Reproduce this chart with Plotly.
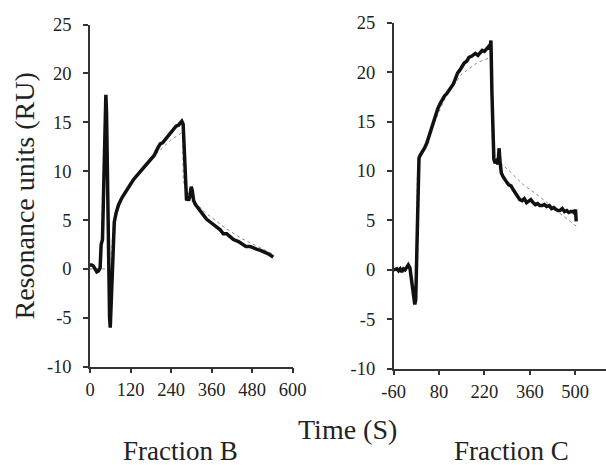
import plotly.graph_objects as go

# ---- Fraction B (left panel) ----
b_time = [0, 5, 10, 15, 20, 25, 30, 33, 37, 41, 45, 47, 49, 52, 55, 58, 60, 62, 65, 68, 72, 78, 85, 95,
          104, 115, 128, 140, 150, 160, 170, 178, 190, 200, 208, 215, 225, 237, 245, 255, 262, 268, 272,
          276, 280, 283, 286, 289, 292, 296, 300, 303, 307, 312, 318, 330, 345, 356, 370, 386, 395, 405,
          415, 425, 440, 450, 462, 474, 485, 495, 505, 514, 525, 535, 543]
b_resp = [0.4, 0.4, 0.3, 0.0, -0.3, -0.2, 0.1, 2.5, 3.0, 9.0, 16.0, 17.8, 16.0, 8.0, 0.0, -5.0, -6.0, -4.0,
          0.0, 3.0, 4.8, 5.8, 6.6, 7.3, 7.8, 8.5, 9.1, 9.6, 10.0, 10.4, 10.7, 11.0, 11.6, 12.3, 12.8, 12.9,
          13.3, 13.9, 14.2, 14.6, 14.7, 14.9, 15.1, 14.8, 12.0, 8.5, 7.0, 7.2, 7.0, 7.5, 8.4, 8.0, 7.0, 6.6,
          6.3, 5.7, 5.1, 4.8, 4.4, 4.0, 3.6, 3.6, 3.3, 3.0, 2.8, 2.6, 2.3, 2.3, 2.1, 2.0, 1.9, 1.8, 1.6,
          1.4, 1.2]
b_fit_time = [0, 63, 66, 70, 78, 90, 104, 150, 200, 240, 275, 276, 290, 310, 340, 366, 400, 450, 500, 543]
b_fit_resp = [0.0, 0.0, 3.0, 5.0, 6.3, 7.2, 7.8, 9.9, 11.9, 13.2, 14.0, 9.0, 7.8, 6.9, 5.8, 5.1, 4.2, 3.1,
              2.2, 1.5]

# ---- Fraction C (right panel) ----
c_time = [-60, -50, -45, -40, -35, -30, -25, -20, -15, -10, -5, 0, 5, 8, 11, 14, 18, 22, 28, 35, 42, 50,
          56, 62, 70, 76, 83, 90, 97, 103, 110, 117, 124, 130, 137, 144, 150, 157, 165, 172, 180, 185,
          192, 200, 206, 213, 220, 227, 233, 237, 240, 243, 246, 249, 253, 257, 262, 265, 268, 272, 278,
          283, 288, 295, 302, 309, 316, 323, 329, 336, 343, 350, 357, 363, 370, 377, 384, 391, 398, 405,
          412, 420, 427, 434, 441, 447, 453, 460, 467, 474, 480, 487, 494, 498, 501, 503]
c_resp = [0.0, 0.1, -0.1, 0.1, -0.2, 0.1, 0.0, 0.2, 0.5, 0.2, -1.0, -2.5, -3.5, -3.0, 2.0, 8.0, 11.3, 11.6,
          11.9, 12.3, 12.8, 13.6, 14.4, 14.8, 15.8, 16.3, 16.8, 17.3, 17.6, 17.8, 18.1, 18.5, 18.8, 19.3,
          19.9, 20.2, 20.6, 20.9, 21.1, 21.5, 21.6, 21.7, 21.9, 21.7, 21.9, 22.2, 22.1, 22.4, 22.6, 22.3,
          23.2, 18.0, 12.5, 11.2, 10.8, 11.0, 10.7, 12.3, 11.0, 9.8, 9.4, 9.1, 8.9, 8.6, 8.5, 8.1, 7.8,
          7.4, 7.1, 7.0, 7.2, 6.8, 7.0, 7.1, 6.8, 6.6, 6.7, 6.5, 6.5, 6.6, 6.4, 6.5, 6.2, 6.3, 6.1, 6.0,
          6.0, 6.2, 5.9, 6.0, 5.8, 5.9, 5.9, 5.7, 6.1, 4.9]
c_fit_time = [10, 13, 20, 60, 100, 150, 200, 240, 245, 270, 300, 340, 370, 410, 453, 480, 506]
c_fit_resp = [0.0, 9.7, 11.0, 14.5, 17.5, 19.8, 21.0, 21.5, 12.0, 10.8, 9.9, 8.6, 7.9, 6.9, 5.7, 5.0, 4.35]

y_ticks = [-10, -5, 0, 5, 10, 15, 20, 25]
y_tick_text = ["-10", "-5", "0", "5", "10", "15", "20", "25"]
b_x_ticks = [0, 120, 240, 360, 480, 600]
c_x_ticks = [-60, 80, 220, 360, 500]
c_x_tick_text = ["-60", "80", "220", "360", "500"]

W, H = 606, 465
FONT = "Liberation Serif, Times New Roman, serif"
AX = "#333333"

fig = go.Figure()
fig.add_trace(go.Scatter(x=b_fit_time, y=b_fit_resp, mode="lines", xaxis="x", yaxis="y",
                         line=dict(color="#8a8a8a", width=1, dash="dot"), showlegend=False))
fig.add_trace(go.Scatter(x=b_time, y=b_resp, mode="lines", xaxis="x", yaxis="y",
                         line=dict(color="#111111", width=3.5), showlegend=False))
fig.add_trace(go.Scatter(x=c_fit_time, y=c_fit_resp, mode="lines", xaxis="x2", yaxis="y2",
                         line=dict(color="#8a8a8a", width=1, dash="dot"), showlegend=False))
fig.add_trace(go.Scatter(x=c_time, y=c_resp, mode="lines", xaxis="x2", yaxis="y2",
                         line=dict(color="#111111", width=3.5), showlegend=False))

axcommon = dict(showgrid=False, zeroline=False, showline=True, linecolor=AX, linewidth=1.5,
                ticks="outside", ticklen=5, tickwidth=1.5, tickcolor=AX, automargin=False,
                tickfont=dict(family=FONT, size=18.5, color="#222222"))

fig.update_layout(
    width=W, height=H,
    margin=dict(l=0, r=0, t=0, b=0, pad=0),
    paper_bgcolor="white", plot_bgcolor="white",
    xaxis=dict(domain=[90 / W, 292.5 / W], range=[0, 600], tickvals=b_x_ticks, anchor="y", **axcommon),
    yaxis=dict(domain=[1 - 366.7 / H, 1 - 24.5 / H], range=[-10, 25], tickvals=y_ticks,
               ticktext=y_tick_text, anchor="x", ticklabelstandoff=8, **axcommon),
    xaxis2=dict(domain=[393.7 / W, 1.0], range=[-60, 595], tickvals=c_x_ticks, ticktext=c_x_tick_text,
                anchor="y2", **axcommon),
    yaxis2=dict(domain=[1 - 368.7 / H, 1 - 22.7 / H], range=[-10, 25], tickvals=y_ticks,
                ticktext=y_tick_text, anchor="x2", ticklabelstandoff=8, **axcommon),
    annotations=[
        dict(text="Resonance units (RU)", x=24 / W, y=1 - 196.5 / H, xref="paper", yref="paper",
             textangle=-90, showarrow=False, xanchor="center", yanchor="middle",
             font=dict(family=FONT, size=28, color="#222222")),
        dict(text="Time (S)", x=347.4 / W, y=1 - 429 / H, xref="paper", yref="paper",
             showarrow=False, xanchor="center", yanchor="middle",
             font=dict(family=FONT, size=28, color="#222222")),
        dict(text="Fraction B", x=180.4 / W, y=1 - 451 / H, xref="paper", yref="paper",
             showarrow=False, xanchor="center", yanchor="middle",
             font=dict(family=FONT, size=27, color="#222222")),
        dict(text="Fraction C", x=511.7 / W, y=1 - 451 / H, xref="paper", yref="paper",
             showarrow=False, xanchor="center", yanchor="middle",
             font=dict(family=FONT, size=27, color="#222222")),
    ],
)

fig.write_html("out.html", config={"displayModeBar": False},
               post_script="document.body.style.margin='0';document.body.style.overflow='hidden';")
